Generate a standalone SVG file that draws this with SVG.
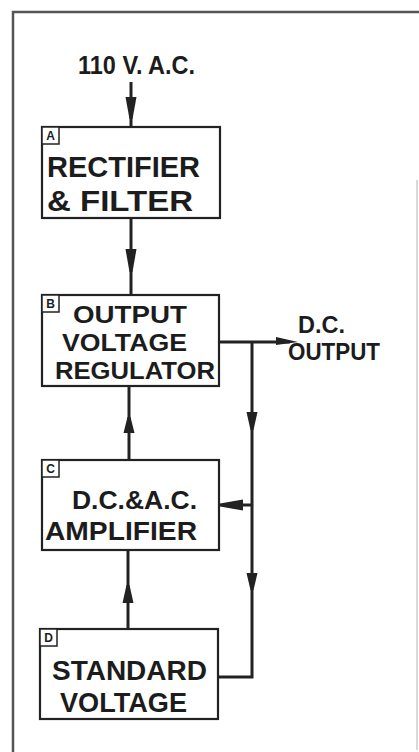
<svg xmlns="http://www.w3.org/2000/svg" width="419" height="752" viewBox="0 0 419 752">
<style>
.frame{stroke:#555;stroke-width:2.5;fill:none}
.box{fill:#fff;stroke:#222;stroke-width:2.2}
.tag{fill:#fff;stroke:#222;stroke-width:1.5}
.t{font-family:"Liberation Sans",Arial,sans-serif;fill:#1c1c1c;font-weight:bold}
.tagt{font-family:"Liberation Sans",Arial,sans-serif;font-size:12px;font-weight:bold;fill:#1c1c1c;text-anchor:middle}
.wire{stroke:#222;stroke-width:3;fill:none}
.ah{fill:#222}
</style>
<rect width="419" height="752" fill="#fff"/>
<path class="frame" d="M13,752 V12 H419"/>
<path d="M417,180 V750" stroke="#ccc" stroke-width="1.5" fill="none"/>

<g id="input-label">
<text class="t" font-size="26" x="78" y="74" textLength="117" lengthAdjust="spacingAndGlyphs">110 V. A.C.</text>
</g>

<g id="A">
<rect class="box" x="42" y="127" width="178" height="91"/>
<rect class="tag" x="42" y="127" width="17" height="17"/>
<text class="tagt" x="50.5" y="140">A</text>
<text class="t" font-size="29" x="47" y="177" textLength="153" lengthAdjust="spacingAndGlyphs">RECTIFIER</text>
<text class="t" font-size="29" x="47" y="211" textLength="146" lengthAdjust="spacingAndGlyphs">&amp; FILTER</text>
</g>

<g id="B">
<rect class="box" x="42" y="295" width="177" height="91"/>
<rect class="tag" x="42" y="295" width="17" height="17"/>
<text class="tagt" x="50.5" y="308">B</text>
<text class="t" font-size="24" x="73" y="323" textLength="114" lengthAdjust="spacingAndGlyphs">OUTPUT</text>
<text class="t" font-size="24" x="62" y="351" textLength="125" lengthAdjust="spacingAndGlyphs">VOLTAGE</text>
<text class="t" font-size="24" x="55" y="379" textLength="160" lengthAdjust="spacingAndGlyphs">REGULATOR</text>
</g>

<g id="output-label">
<text class="t" font-size="23" x="298" y="333" textLength="47" lengthAdjust="spacingAndGlyphs">D.C.</text>
<text class="t" font-size="23" x="288" y="360" textLength="92" lengthAdjust="spacingAndGlyphs">OUTPUT</text>
</g>

<g id="C">
<rect class="box" x="42" y="460" width="177" height="90"/>
<rect class="tag" x="42" y="460" width="17" height="17"/>
<text class="tagt" x="50.5" y="473">C</text>
<text class="t" font-size="26" x="72" y="509" textLength="125" lengthAdjust="spacingAndGlyphs">D.C.&amp;A.C.</text>
<text class="t" font-size="26" x="45" y="540" textLength="152" lengthAdjust="spacingAndGlyphs">AMPLIFIER</text>
</g>

<g id="D">
<rect class="box" x="40" y="629" width="178" height="90"/>
<rect class="tag" x="40" y="629" width="17" height="17"/>
<text class="tagt" x="48.5" y="642">D</text>
<text class="t" font-size="27" x="52" y="680" textLength="155" lengthAdjust="spacingAndGlyphs">STANDARD</text>
<text class="t" font-size="27" x="60" y="712" textLength="127" lengthAdjust="spacingAndGlyphs">VOLTAGE</text>
</g>

<g id="connectors">
<path class="wire" d="M131,82 V127"/>
<polygon class="ah" points="125.5,97 136.5,97 132.5,119 129.5,119"/>
<path class="wire" d="M131,218 V295"/>
<polygon class="ah" points="125.5,249 136.5,249 132.5,272 129.5,272"/>
<path class="wire" d="M129,386 V460"/>
<polygon class="ah" points="123.5,433 134.5,433 130.5,417 127.5,417"/>
<path class="wire" d="M128,550 V629"/>
<polygon class="ah" points="122.5,603 133.5,603 129.5,585 126.5,585"/>
<path class="wire" d="M219,342 H290"/>
<polygon class="ah" points="276,337 298,342 276,345"/>
<path class="wire" d="M252,342 V677 H218"/>
<polygon class="ah" points="246.5,412 257.5,412 253.5,430 250.5,430"/>
<polygon class="ah" points="246.5,573 257.5,573 253.5,590 250.5,590"/>
<path class="wire" d="M252,505 H225"/>
<polygon class="ah" points="243,499.5 243,510.5 220,506.5 220,503.5"/>
</g>
</svg>
